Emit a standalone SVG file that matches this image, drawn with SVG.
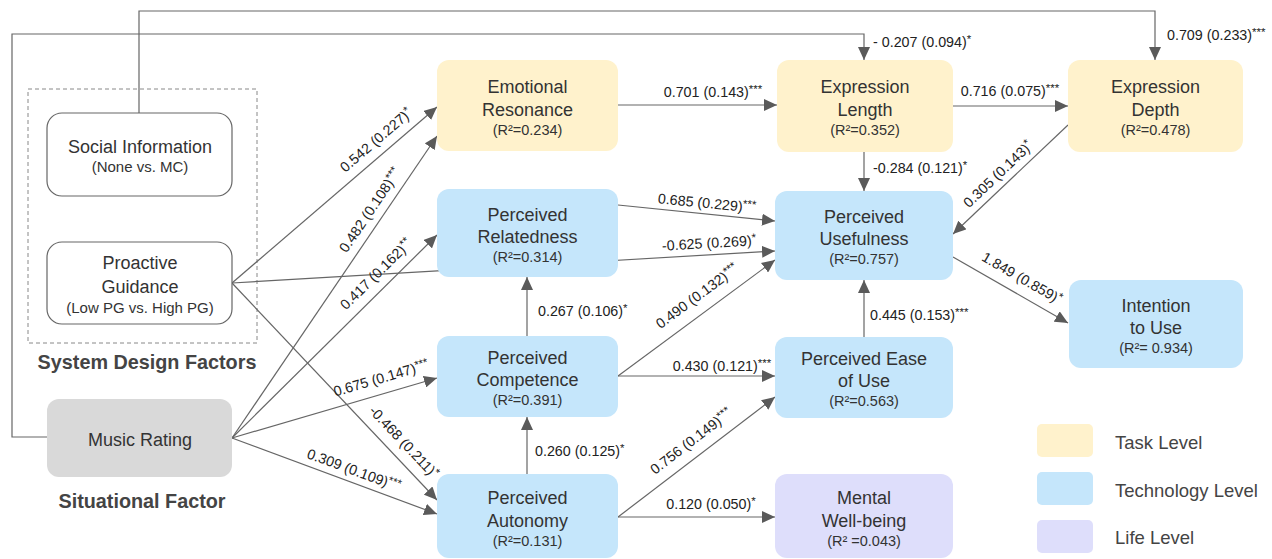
<svg xmlns="http://www.w3.org/2000/svg" width="1272" height="559" viewBox="0 0 1272 559">
<defs>
<marker id="ah" markerUnits="userSpaceOnUse" markerWidth="14" markerHeight="12" refX="13" refY="6" orient="auto">
<path d="M0,0 L13,6 L0,12 z" fill="#5a5a5a"/>
</marker>
<style>
.t{font-family:"Liberation Sans",Arial,sans-serif;font-size:18px;fill:#333;text-anchor:middle}
.r{font-family:"Liberation Sans",Arial,sans-serif;font-size:14.5px;fill:#333;text-anchor:middle}
.s{font-family:"Liberation Sans",Arial,sans-serif;font-size:15px;fill:#333;text-anchor:middle}
.l{font-family:"Liberation Sans",Arial,sans-serif;font-size:14.3px;fill:#222}
.m{text-anchor:middle}
.st{font-size:11.5px}
.b{font-family:"Liberation Sans",Arial,sans-serif;font-size:19.8px;font-weight:bold;fill:#444;text-anchor:middle}
.g{font-family:"Liberation Sans",Arial,sans-serif;font-size:18.5px;fill:#444}
.e{fill:none;stroke:#666;stroke-width:1.2}
.a{marker-end:url(#ah)}
.task{fill:#fff2cc}
.tech{fill:#c5e6fb}
.life{fill:#dedefb}
</style>
</defs>
<rect width="1272" height="559" fill="#fff"/>

<rect x="28" y="89" width="229" height="254" fill="none" stroke="#888" stroke-width="1" stroke-dasharray="4,3"/>
<text class="b" x="147" y="369">System Design Factors</text>
<text class="b" x="142" y="508">Situational Factor</text>

<g id="connectors">
<polyline class="e a" points="139,113 139,11 1155,11 1155,60"/>
<polyline class="e a" points="47,437 12,437 12,34 864,34 864,60"/>
<line class="e a" x1="232" y1="283" x2="437" y2="107"/>
<line class="e a" x1="232" y1="438" x2="437" y2="136"/>
<line class="e a" x1="232" y1="438" x2="437" y2="235"/>
<line class="e a" x1="232" y1="283" x2="775" y2="251"/>
<line class="e a" x1="232" y1="283" x2="437" y2="500"/>
<line class="e a" x1="232" y1="438" x2="437" y2="378"/>
<line class="e a" x1="232" y1="438" x2="437" y2="514"/>
<line class="e a" x1="618" y1="105" x2="777" y2="105"/>
<line class="e a" x1="953" y1="106" x2="1068" y2="106"/>
<line class="e a" x1="864" y1="152" x2="864" y2="191"/>
<line class="e a" x1="1068" y1="125" x2="953" y2="234"/>
<line class="e a" x1="618" y1="205" x2="775" y2="221"/>
<line class="e a" x1="527" y1="336" x2="527" y2="277"/>
<line class="e a" x1="618" y1="376" x2="775" y2="260"/>
<line class="e a" x1="618" y1="376" x2="775" y2="376"/>
<line class="e a" x1="527" y1="474" x2="527" y2="417"/>
<line class="e a" x1="618" y1="517" x2="775" y2="397"/>
<line class="e a" x1="618" y1="517" x2="775" y2="517"/>
<line class="e a" x1="864" y1="337" x2="864" y2="280"/>
<line class="e a" x1="953" y1="257" x2="1068" y2="323"/>

<text class="l" x="873" y="47">- 0.207 (0.094)<tspan class="st" dy="-4">*</tspan></text>
<text class="l" x="1167" y="40">0.709 (0.233)<tspan class="st" dy="-4">***</tspan></text>
<text class="l m" x="713" y="97">0.701 (0.143)<tspan class="st" dy="-4">***</tspan></text>
<text class="l m" x="1010" y="96">0.716 (0.075)<tspan class="st" dy="-4">***</tspan></text>
<text class="l" x="873" y="173">-0.284 (0.121)<tspan class="st" dy="-4">*</tspan></text>
<text class="l" x="870" y="320">0.445 (0.153)<tspan class="st" dy="-4">***</tspan></text>
<text class="l" x="538" y="316">0.267 (0.106)<tspan class="st" dy="-4">*</tspan></text>
<text class="l" x="535" y="456">0.260 (0.125)<tspan class="st" dy="-4">*</tspan></text>
<text class="l m" x="722" y="371">0.430 (0.121)<tspan class="st" dy="-4">***</tspan></text>
<text class="l m" x="711" y="509">0.120 (0.050)<tspan class="st" dy="-4">*</tspan></text>

<text class="l m" transform="translate(376,140) rotate(-40.6)" y="5">0.542 (0.227)<tspan class="st" dy="-4">*</tspan></text>
<text class="l m" transform="translate(370,210) rotate(-55.9)" y="5">0.482 (0.108)<tspan class="st" dy="-4">***</tspan></text>
<text class="l m" transform="translate(376,274) rotate(-44.7)" y="5">0.417 (0.162)<tspan class="st" dy="-4">**</tspan></text>
<text class="l m" transform="translate(381,378) rotate(-16.3)" y="5">0.675 (0.147)<tspan class="st" dy="-4">***</tspan></text>
<text class="l m" transform="translate(404,442) rotate(46.6)" y="5">-0.468 (0.211)<tspan class="st" dy="-4">*</tspan></text>
<text class="l m" transform="translate(354,470) rotate(20.1)" y="5">0.309 (0.109)<tspan class="st" dy="-4">***</tspan></text>
<text class="l m" transform="translate(697,296) rotate(-36.5)" y="5">0.490 (0.132)<tspan class="st" dy="-4">***</tspan></text>
<text class="l m" transform="translate(691,441) rotate(-37.4)" y="5">0.756 (0.149)<tspan class="st" dy="-4">***</tspan></text>
<text class="l m" transform="translate(998,174) rotate(-43.7)" y="5">0.305 (0.143)<tspan class="st" dy="-4">*</tspan></text>
<text class="l m" transform="translate(1022,278) rotate(29.9)" y="5">1.849 (0.859)<tspan class="st" dy="-4">*</tspan></text>
<text class="l m" transform="translate(707,203) rotate(5.5)" y="5">0.685 (0.229)<tspan class="st" dy="-4">***</tspan></text>
<text class="l m" transform="translate(709,243) rotate(-3.4)" y="5">-0.625 (0.269)<tspan class="st" dy="-4">*</tspan></text>
</g>

<g id="social-information">
<rect x="47" y="113" width="185" height="83" rx="15" fill="#fff" stroke="#666" stroke-width="1.2"/>
<text class="t" x="140" y="153">Social Information</text>
<text class="s" x="140" y="172">(None vs. MC)</text>
</g>
<g id="proactive-guidance">
<rect x="47" y="242" width="185" height="82" rx="15" fill="#fff" stroke="#666" stroke-width="1.2"/>
<text class="t" x="140" y="269">Proactive</text>
<text class="t" x="140" y="293">Guidance</text>
<text class="s" x="140" y="313">(Low PG vs. High PG)</text>
</g>
<g id="music-rating">
<rect x="47" y="399" width="185" height="78" rx="12" fill="#d9d9d9"/>
<text class="t" x="140" y="446">Music Rating</text>
</g>

<g id="emotional-resonance">
<rect class="task" x="437" y="60" width="181" height="91" rx="12"/>
<text class="t" x="527.5" y="93">Emotional</text>
<text class="t" x="527.5" y="116">Resonance</text>
<text class="r" x="527.5" y="135">(R²=0.234)</text>
</g>
<g id="expression-length">
<rect class="task" x="777" y="60" width="176" height="92" rx="12"/>
<text class="t" x="865" y="93">Expression</text>
<text class="t" x="865" y="116">Length</text>
<text class="r" x="865" y="135">(R²=0.352)</text>
</g>
<g id="expression-depth">
<rect class="task" x="1068" y="60" width="175" height="92" rx="12"/>
<text class="t" x="1155.5" y="93">Expression</text>
<text class="t" x="1155.5" y="116">Depth</text>
<text class="r" x="1155.5" y="135">(R²=0.478)</text>
</g>
<g id="perceived-relatedness">
<rect class="tech" x="437" y="189" width="181" height="88" rx="12"/>
<text class="t" x="527.5" y="221">Perceived</text>
<text class="t" x="527.5" y="243">Relatedness</text>
<text class="r" x="527.5" y="262">(R²=0.314)</text>
</g>
<g id="perceived-usefulness">
<rect class="tech" x="775" y="191" width="178" height="89" rx="12"/>
<text class="t" x="864" y="223">Perceived</text>
<text class="t" x="864" y="245">Usefulness</text>
<text class="r" x="864" y="264">(R²=0.757)</text>
</g>
<g id="intention-to-use">
<rect class="tech" x="1069" y="280" width="174" height="88" rx="12"/>
<text class="t" x="1156" y="312">Intention</text>
<text class="t" x="1156" y="334">to Use</text>
<text class="r" x="1156" y="353">(R²= 0.934)</text>
</g>
<g id="perceived-competence">
<rect class="tech" x="437" y="336" width="181" height="81" rx="12"/>
<text class="t" x="527.5" y="364">Perceived</text>
<text class="t" x="527.5" y="386">Competence</text>
<text class="r" x="527.5" y="405">(R²=0.391)</text>
</g>
<g id="perceived-ease-of-use">
<rect class="tech" x="775" y="337" width="178" height="81" rx="12"/>
<text class="t" x="864" y="365">Perceived Ease</text>
<text class="t" x="864" y="387">of Use</text>
<text class="r" x="864" y="406">(R²=0.563)</text>
</g>
<g id="perceived-autonomy">
<rect class="tech" x="437" y="474" width="181" height="84" rx="12"/>
<text class="t" x="527.5" y="504">Perceived</text>
<text class="t" x="527.5" y="527">Autonomy</text>
<text class="r" x="527.5" y="546">(R²=0.131)</text>
</g>
<g id="mental-well-being">
<rect class="life" x="775" y="474" width="178" height="84" rx="12"/>
<text class="t" x="864" y="504">Mental</text>
<text class="t" x="864" y="527">Well-being</text>
<text class="r" x="864" y="546">(R² =0.043)</text>
</g>

<g id="legend">
<rect class="task" x="1037" y="424" width="56" height="33" rx="5"/>
<text class="g" x="1115" y="449">Task Level</text>
<rect class="tech" x="1037" y="472" width="56" height="33" rx="5"/>
<text class="g" x="1115" y="497">Technology Level</text>
<rect class="life" x="1037" y="520" width="56" height="33" rx="5"/>
<text class="g" x="1115" y="544">Life Level</text>
</g>
</svg>
